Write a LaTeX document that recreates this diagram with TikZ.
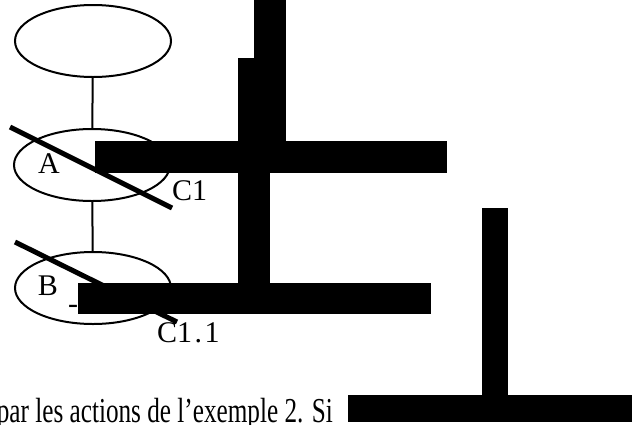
\documentclass[tikz,border=0pt]{standalone}
\usepackage{fontspec}
\setmainfont{Liberation Serif}
\newfontfamily\bodyfont{Liberation Serif}[FakeStretch=0.72]
\usetikzlibrary{shapes.geometric}

\tikzset{
  state/.style={draw, ellipse, line width=2pt, minimum width=156pt, minimum height=72pt, inner sep=0pt},
  link/.style={line width=2pt},
  strike/.style={line width=5pt},
  mask/.style={fill=black},
  lbl/.style={inner sep=0pt, font=\fontsize{30}{34}\selectfont},
  body/.style={inner sep=0pt, font=\bodyfont\fontsize{35}{40}\selectfont}
}

\begin{document}
\begin{tikzpicture}[x=1pt,y=-1pt]
\useasboundingbox (0,0) rectangle (632,424);

% Tree of states
\node[state] (root) at (93,41) {};
\node[state] (sa) at (92,165) {};
\node[state] (sb) at (93,288) {};
\draw[link] (root) -- (sa);
\draw[link] (sa) -- (sb);

\node[lbl] (la) at (49,164) {A};
\node[lbl] (lb) at (48,286) {B};
\node[lbl, anchor=base] (dash) at (73,313) {-};

% Crossed-out states
\draw[strike] (10,127) coordinate (a1) -- (172,208) coordinate (a2);
\draw[strike] (15,242) coordinate (b1) -- (177,322) coordinate (b2);
\node[lbl, anchor=base west] (c1) at (172,200) {C1};
\node[lbl, anchor=base west] (c11) at (157,342) {C1\kern2.5pt.\kern2.5pt1};

% Text line
\node[body, anchor=base east] (txt) at (333,422.5) {par les actions de l’exemple 2. Si};

% Black bars
\fill[mask] (254,0) rectangle (286,142);
\fill[mask] (238,58) rectangle (270,285);
\fill[mask] (95,141) rectangle (447,173);
\fill[mask] (78,283) rectangle (431,314);
\fill[mask] (482,208) rectangle (508,395);
\fill[mask] (348,395) rectangle (632,422);

\end{tikzpicture}
\end{document}
